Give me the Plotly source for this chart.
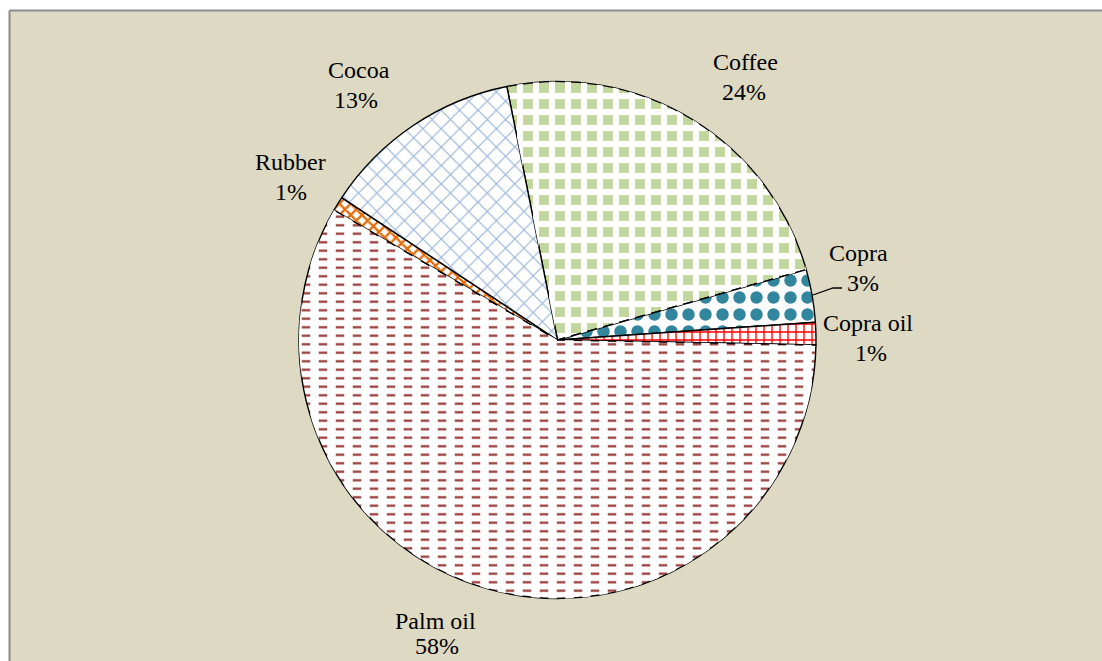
import plotly.graph_objects as go

# ---- data ----
categories = ["Coffee", "Copra", "Copra oil", "Palm oil", "Rubber", "Cocoa"]
shares = [23.8, 3.3, 1.4, 58.2, 0.9, 12.6]

total = sum(shares)
pct_labels = [f"{round(v / total * 100)}%" for v in shares]

# ---- styling ----
W, H = 1102, 661
FONT = "Liberation Serif, Times New Roman, serif"
BG = "#DDD9C3"

def px(x):
    return x / W

def py(y):
    return 1 - y / H

cx, cy, r = 557.5, 340.0, 258.5

fg_colors = ["#C3D69B", "#31859C", "#FF0000", "#953735", "#E46C0A", "#95B3D7"]
shapes_a = ["-", ".", "+", "-", "x", "x"]
sizes_a = [16, 17, 8, 8.5, 8, 13]
solid_a = [0.62, 0.42, 0.3, 0.26, 0.5, 0.17]

# overlay pattern that breaks stripes into squares / dashes
shapes_b = ["|", "", "", "|", "", ""]
sizes_b = [16, 10, 10, 17, 10, 10]
solid_b = [0.38, 0.3, 0.3, 0.5, 0.3, 0.3]

domain = dict(x=[px(cx - r), px(cx + r)], y=[py(cy + r), py(cy - r)])
rotation = -11.3

fig = go.Figure()
fig.add_trace(go.Pie(
    labels=categories, values=shares, sort=False, direction="clockwise",
    rotation=rotation, domain=domain, textinfo="none", hoverinfo="label+percent",
    showlegend=False,
    marker=dict(
        colors=["white"] * len(categories),
        line=dict(color="black", width=1.4),
        pattern=dict(shape=shapes_a, fgcolor=fg_colors, bgcolor=["white"] * len(categories),
                     size=sizes_a, solidity=solid_a, fillmode="replace"),
    ),
))
fig.add_trace(go.Pie(
    labels=[c + " " for c in categories], values=shares, sort=False, direction="clockwise",
    rotation=rotation, domain=domain, textinfo="none", hoverinfo="skip",
    showlegend=False,
    marker=dict(
        colors=["rgba(0,0,0,0)"] * len(categories),
        line=dict(color="rgba(0,0,0,0)", width=0),
        pattern=dict(shape=shapes_b, fgcolor=["white"] * len(categories),
                     bgcolor=["rgba(0,0,0,0)"] * len(categories),
                     size=sizes_b, solidity=solid_b, fillmode="replace"),
    ),
))

# label positions (pixel centres): name line, percent line
label_pos = {
    "Coffee": ((745, 62), (744, 92)),
    "Copra": ((858, 253), (863, 283)),
    "Copra oil": ((868, 323), (871, 353)),
    "Palm oil": ((435, 621), (437, 646)),
    "Rubber": ((290, 162), (291, 192)),
    "Cocoa": ((359, 70), (356, 100)),
}

annotations = []
for cat, pct in zip(categories, pct_labels):
    (nx, ny), (qx, qy) = label_pos[cat]
    for txt, x, y in ((cat, nx, ny), (pct, qx, qy)):
        annotations.append(dict(
            text=txt, x=px(x), y=py(y), xref="paper", yref="paper",
            xanchor="center", yanchor="middle", showarrow=False,
            font=dict(family=FONT, size=24, color="black"),
        ))

shapes = [
    dict(type="rect", xref="paper", yref="paper", layer="below",
         x0=px(9.5), x1=1.0, y0=0.0, y1=py(10.5),
         fillcolor=BG, line=dict(width=0)),
    dict(type="line", xref="paper", yref="paper", layer="below",
         x0=px(9.5), x1=px(9.5), y0=0.0, y1=py(10.5),
         line=dict(color="#8C8C8C", width=2)),
    dict(type="line", xref="paper", yref="paper", layer="below",
         x0=px(9.5), x1=1.0, y0=py(10.5), y1=py(10.5),
         line=dict(color="#8C8C8C", width=2)),
    dict(type="path", xref="paper", yref="paper", layer="above",
         path=f"M{px(813)},{py(295)} L{px(833)},{py(288)} L{px(842)},{py(288)}",
         line=dict(color="black", width=1.3)),
]

fig.update_layout(
    width=W, height=H,
    margin=dict(l=0, r=0, t=0, b=0),
    paper_bgcolor="white",
    plot_bgcolor="white",
    annotations=annotations,
    shapes=shapes,
    font=dict(family=FONT),
)

fig.write_html("out.html")
